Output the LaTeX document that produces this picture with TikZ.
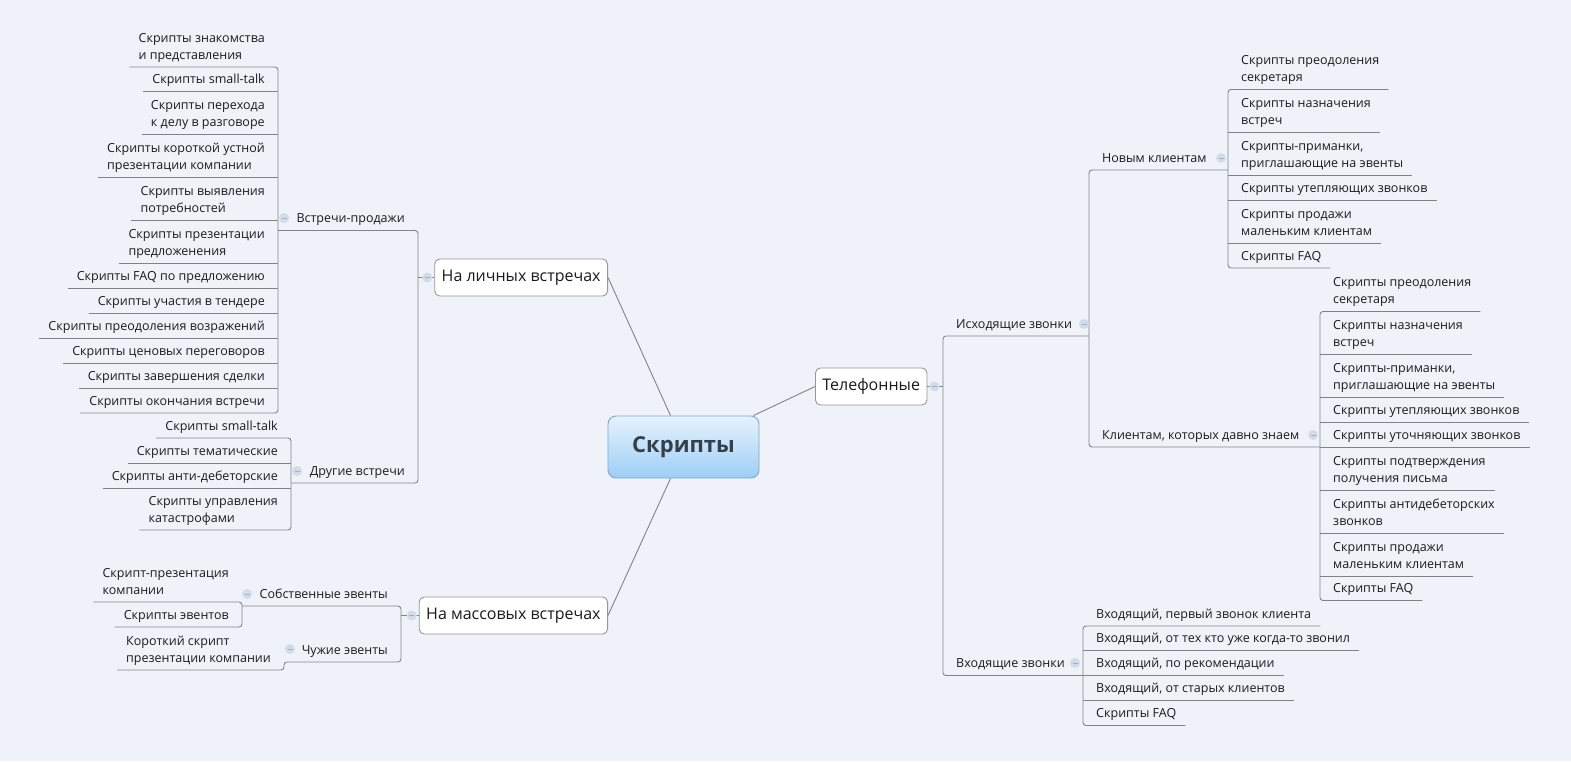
\documentclass[tikz,border=0pt]{standalone}
\usepackage{fontspec}
\setmainfont{Open Sans}
\usetikzlibrary{calc}

\definecolor{bgcol}{HTML}{EFF3F9}
\definecolor{linecol}{HTML}{828282}
\definecolor{boxcol}{HTML}{969696}
\definecolor{txtcol}{HTML}{1A1A1A}
\definecolor{foldcol}{HTML}{D3DBE8}
\definecolor{minuscol}{HTML}{9FAFC7}
\definecolor{roottop}{HTML}{E6F2FC}
\definecolor{rootbot}{HTML}{9ECEF6}
\definecolor{rootline}{HTML}{7FA6C8}
\definecolor{roottxt}{HTML}{353F4A}

\tikzset{
  conn/.style={draw=linecol,line width=0.9pt,rounded corners=3pt},
  leaf/.style={inner xsep=9pt,inner ysep=2.5pt,align=left,text=txtcol,
    font=\fontsize{12.5}{17}\selectfont,execute at end node=\strut},
  leafr/.style={leaf,anchor=south west,xshift=4pt},
  leafl/.style={leaf,anchor=south east,xshift=-4pt},
  topbox/.style={draw=boxcol,fill=white,rounded corners=5pt,line width=0.9pt,
    minimum height=37pt,inner xsep=7pt,text=txtcol,font=\fontsize{16}{19}\selectfont},
  rootbox/.style={draw=rootline,top color=roottop,bottom color=rootbot,
    rounded corners=8pt,line width=0.9pt,minimum width=151pt,minimum height=62pt,
    text=roottxt,font=\fontsize{22}{26}\selectfont\bfseries},
  fold/.style={circle,fill=foldcol,minimum size=10pt,inner sep=0pt,
    path picture={\draw[minuscol,line width=0.9pt]
      ([xshift=-2.5pt]path picture bounding box.center) --
      ([xshift=2.5pt]path picture bounding box.center);}}
}

\begin{document}
\begin{tikzpicture}[x=1pt,y=-1pt]
\path[use as bounding box,fill=bgcol] (0,0) rectangle (1571,761);

% bracket columns
\coordinate (lichbr) at (418,0);
\coordinate (salesbr) at (278,0);
\coordinate (otherbr) at (291,0);
\coordinate (massbr) at (401,0);
\coordinate (ownbr) at (242,0);
\coordinate (alienbr) at (284,0);
\coordinate (telbr) at (943,0);
\coordinate (outbr) at (1089,0);
\coordinate (inbr) at (1083,0);
\coordinate (newbr) at (1228,0);
\coordinate (oldbr) at (1320,0);

% main topics
\node[rootbox] (root) at (683.5,447) {Скрипты};
\node[topbox,anchor=east] (lich) at (608,277.5) {На личных встречах};
\node[topbox,anchor=east] (mass) at (608,615.5) {На массовых встречах};
\node[topbox,anchor=west] (tel) at (815,386.5) {Телефонные};

\draw[conn] ($(root.north)+(-13,0)$) -- (lich.east);
\draw[conn] ($(root.south)+(-13,0)$) -- (mass.east);
\draw[conn] ($(root.north east)+(-6,0)$) -- (tel.west);

% left: personal meetings
\path
    (418,230.5) node [leafl] (sales) {Встречи-продажи}
    (418,483) node [leafl] (other) {Другие встречи}
    (278,67) node [leafl] (sales1) {Скрипты знакомства\\и представления}
    (278,91.5) node [leafl] (sales2) {Скрипты small-talk}
    (278,134) node [leafl] (sales3) {Скрипты перехода\\к делу в разговоре}
    (278,177) node [leafl] (sales4) {Скрипты короткой устной\\презентации компании}
    (278,220) node [leafl] (sales5) {Скрипты выявления\\потребностей}
    (278,263) node [leafl] (sales6) {Скрипты презентации\\предложенения}
    (278,288) node [leafl] (sales7) {Скрипты FAQ по предложению}
    (278,313) node [leafl] (sales8) {Скрипты участия в тендере}
    (278,338) node [leafl] (sales9) {Скрипты преодоления возражений}
    (278,363) node [leafl] (sales10) {Скрипты ценовых переговоров}
    (278,388) node [leafl] (sales11) {Скрипты завершения сделки}
    (278,413) node [leafl] (sales12) {Скрипты окончания встречи}
    (291,438) node [leafl] (other1) {Скрипты small-talk}
    (291,463) node [leafl] (other2) {Скрипты тематические}
    (291,488) node [leafl] (other3) {Скрипты анти-дебеторские}
    (291,530) node [leafl] (other4) {Скрипты управления\\катастрофами};
\draw[conn] (lich.west) -- (lich.west -| lichbr);
\draw[conn] (sales.south -| salesbr) -- (sales.south -| lichbr) --
    (other.south -| lichbr) -- (other.south -| otherbr);
\draw[conn] (sales1.south west) -- (sales1.south -| salesbr) --
    (sales12.south -| salesbr) -- (sales12.south west);
\foreach \i in {2,...,11}
    \draw[conn] (sales\i.south west) -- (sales\i.south -| salesbr);
\draw[conn] (other1.south west) -- (other1.south -| otherbr) --
    (other4.south -| otherbr) -- (other4.south west);
\foreach \i in {2,3}
    \draw[conn] (other\i.south west) -- (other\i.south -| otherbr);

% left: mass events
\path
    (401,606) node [leafl] (own) {Собственные эвенты}
    (401,662) node [leafl] (alien) {Чужие эвенты}
    (242,602) node [leafl] (own1) {Скрипт-презентация\\компании}
    (242,627) node [leafl] (own2) {Скрипты эвентов}
    (284,670) node [leafl] (alien1) {Короткий скрипт\\презентации компании};
\draw[conn] (mass.west) -- (mass.west -| massbr);
\draw[conn] (own.south -| ownbr) -- (own.south -| massbr) --
    (alien.south -| massbr) -- (alien.south -| alienbr) --
    (alien1.south -| alienbr) -- (alien1.south west);
\draw[conn] (own1.south west) -- (own1.south -| ownbr) --
    (own2.south -| ownbr) -- (own2.south west);

% right: phone calls
\path
    (943,336) node [leafr] (outgoing) {Исходящие звонки}
    (943,675.5) node [leafr] (incoming) {Входящие звонки}
    (1089,170) node [leafr] (newcl) {Новым клиентам}
    (1089,447) node [leafr] (oldcl) {Клиентам, которых давно знаем}
    (1228,89.5) node [leafr] (new1) {Скрипты преодоления\\секретаря}
    (1228,132) node [leafr] (new2) {Скрипты назначения\\встреч}
    (1228,175) node [leafr] (new3) {Скрипты-приманки,\\приглашающие на эвенты}
    (1228,200) node [leafr] (new4) {Скрипты утепляющих звонков}
    (1228,243) node [leafr] (new5) {Скрипты продажи\\маленьким клиентам}
    (1228,268) node [leafr] (new6) {Скрипты FAQ}
    (1320,311.5) node [leafr] (old1) {Скрипты преодоления\\секретаря}
    (1320,354) node [leafr] (old2) {Скрипты назначения\\встреч}
    (1320,397) node [leafr] (old3) {Скрипты-приманки,\\приглашающие на эвенты}
    (1320,422) node [leafr] (old4) {Скрипты утепляющих звонков}
    (1320,447) node [leafr] (old5) {Скрипты уточняющих звонков}
    (1320,490) node [leafr] (old6) {Скрипты подтверждения\\получения письма}
    (1320,533) node [leafr] (old7) {Скрипты антидебеторских\\звонков}
    (1320,576) node [leafr] (old8) {Скрипты продажи\\маленьким клиентам}
    (1320,600.5) node [leafr] (old9) {Скрипты FAQ}
    (1083,626) node [leafr] (in1) {Входящий, первый звонок клиента}
    (1083,650.5) node [leafr] (in2) {Входящий, от тех кто уже когда-то звонил}
    (1083,675.5) node [leafr] (in3) {Входящий, по рекомендации}
    (1083,700.5) node [leafr] (in4) {Входящий, от старых клиентов}
    (1083,725.5) node [leafr] (in5) {Скрипты FAQ};
\draw[conn] (tel.east) -- (tel.east -| telbr);
\draw[conn] (outgoing.south -| outbr) -- (outgoing.south -| telbr) --
    (incoming.south -| telbr) -- (incoming.south -| inbr);
\draw[conn] (newcl.south -| newbr) -- (newcl.south -| outbr) --
    (oldcl.south -| outbr) -- (oldcl.south -| oldbr);
\draw[conn] (new1.south east) -- (new1.south -| newbr) --
    (new6.south -| newbr) -- (new6.south east);
\foreach \i in {2,...,5}
    \draw[conn] (new\i.south -| newbr) -- (new\i.south east);
\draw[conn] (old1.south east) -- (old1.south -| oldbr) --
    (old9.south -| oldbr) -- (old9.south east);
\foreach \i in {2,...,8}
    \draw[conn] (old\i.south -| oldbr) -- (old\i.south east);
\draw[conn] (in1.south east) -- (in1.south -| inbr) --
    (in5.south -| inbr) -- (in5.south east);
\foreach \i in {2,3,4}
    \draw[conn] (in\i.south -| inbr) -- (in\i.south east);

% collapse markers
\node[fold] (lichf) at ($(lich.west)+(-7,0)$) {};
\node[fold] (massf) at ($(mass.west)+(-7,0)$) {};
\node[fold] (telf) at ($(tel.east)+(7,0)$) {};
\node[fold] (salesf) at ($(sales.south -| salesbr)+(6,-12.5)$) {};
\node[fold] (otherf) at ($(other.south -| otherbr)+(6,-12)$) {};
\node[fold] (ownf) at ($(own.south -| ownbr)+(5,-12)$) {};
\node[fold] (alienf) at ($(alien.south -| alienbr)+(6,-13)$) {};
\node[fold] (outgoingf) at ($(outgoing.south -| outbr)+(-5,-12)$) {};
\node[fold] (incomingf) at ($(incoming.south -| inbr)+(-8,-12.5)$) {};
\node[fold] (newclf) at ($(newcl.south -| newbr)+(-7,-12)$) {};
\node[fold] (oldclf) at ($(oldcl.south -| oldbr)+(-7,-12)$) {};
\end{tikzpicture}
\end{document}
